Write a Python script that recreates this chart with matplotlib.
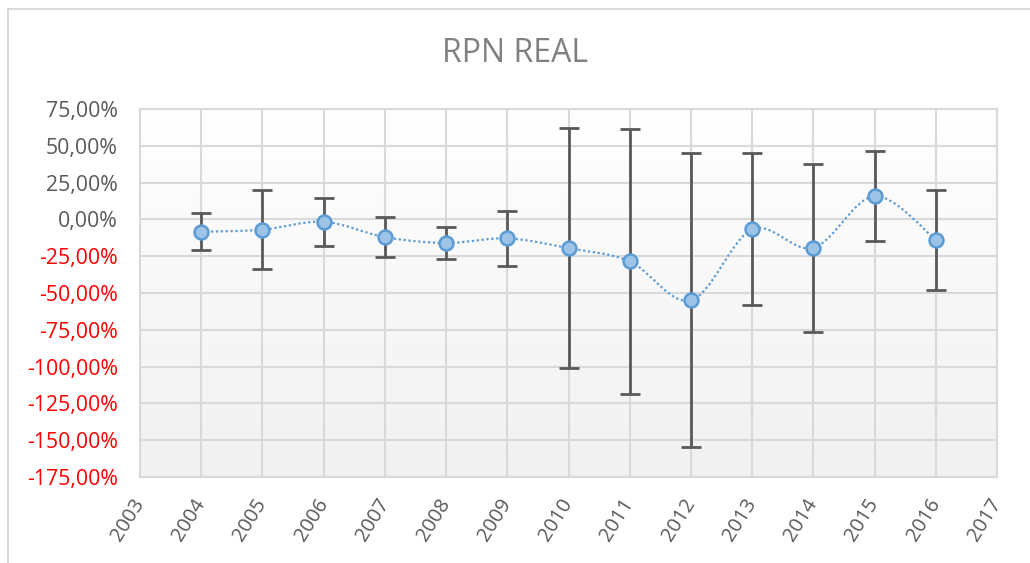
import numpy as np
import matplotlib.pyplot as plt
from matplotlib.path import Path
from matplotlib.patches import PathPatch
from matplotlib.lines import Line2D

years = [2004, 2005, 2006, 2007, 2008, 2009, 2010, 2011, 2012, 2013, 2014, 2015, 2016]
rpn_mean = [-8.4, -7.0, -1.6, -12.0, -16.0, -12.9, -19.5, -28.5, -55.0, -6.8, -19.3, 15.8, -13.8]
rpn_err = [12.5, 27.0, 16.3, 13.6, 10.6, 18.8, 81.3, 89.9, 99.8, 51.6, 57.0, 30.6, 34.0]
x_ticks = list(range(2003, 2018))
y_ticks = [75, 50, 25, 0, -25, -50, -75, -100, -125, -150, -175]

plt.rcParams['font.family'] = ['Open Sans', 'DejaVu Sans']
gray_txt = '#595959'

fig = plt.figure(figsize=(10.30, 5.63), dpi=100)
ax = fig.add_axes([140 / 1030, 86 / 563, 857 / 1030, 368 / 563])

# gradient background of plot area (white at top -> light gray at bottom)
t = np.linspace(0, 1, 256).reshape(-1, 1, 1)
grad = np.ones((256, 1, 3)) * (1 - 0.055 * t)
ax.imshow(grad, extent=[2003, 2017, -175, 75], aspect='auto', zorder=0, origin='upper')

ax.set_xlim(2003, 2017)
ax.set_ylim(-175, 75)
ax.set_xticks(x_ticks)
ax.set_yticks(y_ticks)
ax.grid(True, color='#d9d9d9', linewidth=1.5, zorder=1)
ax.axhline(0, color='#bfbfbf', linewidth=1.3, zorder=1.5)
for s in ax.spines.values():
    s.set_color('#d9d9d9')
    s.set_linewidth(1.5)
ax.tick_params(axis='y', length=0, pad=16)
ax.tick_params(axis='x', length=0, pad=17)

ax.set_yticklabels([f"{v:.2f}".replace('.', ',') + '%' for v in y_ticks], fontsize=15.3)
for lab, v in zip(ax.get_yticklabels(), y_ticks):
    lab.set_color('#ff0000' if v < 0 else gray_txt)
ax.set_xticklabels([str(y) for y in x_ticks], fontsize=14.5, color=gray_txt,
                   rotation=58, ha='right', va='center', rotation_mode='anchor')

# smoothed dotted line (Excel-style bezier through the points)
pts = np.column_stack([years, rpn_mean])
verts = [tuple(pts[0])]
codes = [Path.MOVETO]
n = len(pts)
for i in range(n - 1):
    p0 = pts[i - 1] if i > 0 else pts[i]
    p1 = pts[i]
    p2 = pts[i + 1]
    p3 = pts[i + 2] if i + 2 < n else pts[i + 1]
    c1 = p1 + (p2 - p0) / 6
    c2 = p2 - (p3 - p1) / 6
    verts += [tuple(c1), tuple(c2), tuple(p2)]
    codes += [Path.CURVE4] * 3
ax.add_patch(PathPatch(Path(verts, codes), fill=False, edgecolor='#5b9bd5',
                       linewidth=1.6, linestyle=(0, (1, 1.2)), zorder=2))

ax.errorbar(years, rpn_mean, yerr=rpn_err, fmt='none', ecolor='#595959',
            elinewidth=2, capsize=7, capthick=2, zorder=3)
ax.plot(years, rpn_mean, 'o', markersize=10, markerfacecolor='#9dc3e6',
        markeredgecolor='#5b9bd5', markeredgewidth=1.8, linestyle='none', zorder=4)

fig.text(0.5, 1 - 53 / 563, 'RPN REAL', ha='center', va='center',
         fontsize=23, color='#808080')

# chart border
fig.add_artist(Line2D([8 / 1030, 1], [1 - 9 / 563] * 2, color='#d9d9d9', linewidth=1.5))
fig.add_artist(Line2D([8 / 1030] * 2, [0, 1 - 9 / 563], color='#d9d9d9', linewidth=1.5))

plt.savefig('out.png', dpi=100)
